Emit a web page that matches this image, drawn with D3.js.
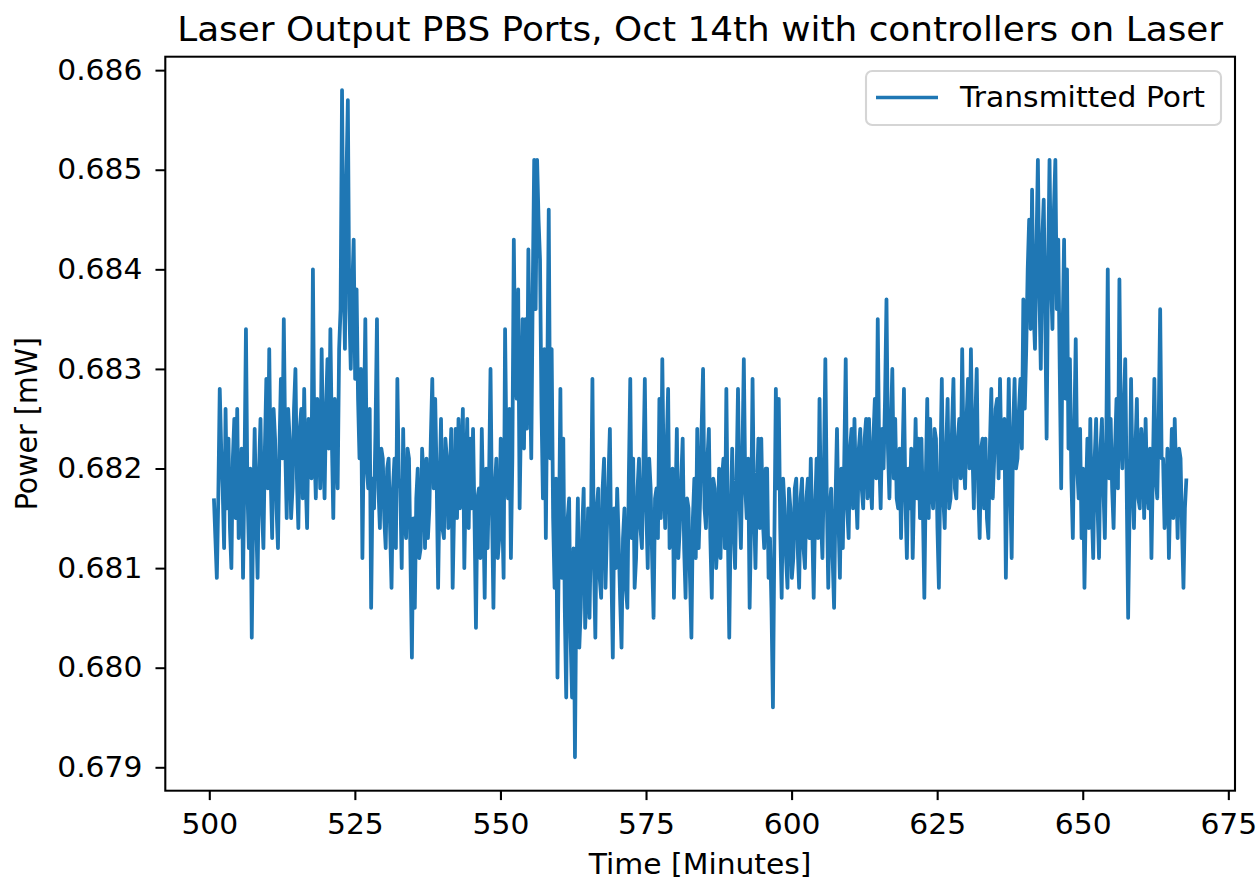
<!DOCTYPE html>
<html lang="en">
<head>
    <meta charset="UTF-8">
    <title>Laser Output PBS Ports</title>
    <script src="https://cdn.jsdelivr.net/npm/d3@7"></script>
    <style>
        body { margin: 0; background: #fff; }
        svg text { font-family: "DejaVu Sans", sans-serif; fill: #000; }
    </style>
</head>
<body>
<svg id="canvas" width="1260" height="887"></svg>
<script>
    // power meter log: first reading at t0 minutes, then one reading every dt minutes
    const t0 = 500.8;
    const dt = 0.25;
    // readings in mW
    const power = [
        // 500.8 - 522.5
        0.6817, 0.6813, 0.6809, 0.6817, 0.6828, 0.6822, 0.6818, 0.6812, 0.6826, 0.6816,
        0.6823, 0.6814, 0.6810, 0.6821, 0.6825, 0.6815, 0.6826, 0.6813, 0.6817, 0.6822,
        0.6809, 0.6820, 0.6834, 0.6818, 0.6812, 0.6820, 0.6803, 0.6816, 0.6824, 0.6815,
        0.6809, 0.6820, 0.6825, 0.6816, 0.6812, 0.6822, 0.6829, 0.6818, 0.6832, 0.6819,
        0.6813, 0.6826, 0.6823, 0.6816, 0.6812, 0.6822, 0.6829, 0.6821, 0.6835, 0.6822,
        0.6815, 0.6826, 0.6823, 0.6815, 0.6818, 0.6826, 0.6830, 0.6819, 0.6814, 0.6824,
        0.6826, 0.6817, 0.6828, 0.6819, 0.6814, 0.6825, 0.6823, 0.6819, 0.6840, 0.6822,
        0.6817, 0.6827, 0.6824, 0.6818, 0.6832, 0.6822, 0.6817, 0.6826, 0.6831, 0.6822,
        0.6834, 0.6823, 0.6815, 0.6827, 0.6823, 0.6818, 0.6832, 0.6836,
        // 522.8 - 556.5
        0.6858, 0.6840, 0.6832, 0.6849, 0.6857, 0.6836, 0.6830, 0.6838, 0.6843, 0.6829,
        0.6838, 0.6827, 0.6821, 0.6830, 0.6811, 0.6824, 0.6835, 0.6820, 0.6818, 0.6826,
        0.6806, 0.6819, 0.6816, 0.6824, 0.6835, 0.6818, 0.6814, 0.6822, 0.6821, 0.6815,
        0.6812, 0.6820, 0.6821, 0.6814, 0.6808, 0.6818, 0.6821, 0.6812, 0.6829, 0.6819,
        0.6818, 0.6810, 0.6824, 0.6815, 0.6813, 0.6822, 0.6821, 0.6811, 0.6801, 0.6815,
        0.6806, 0.6817, 0.6820, 0.6811, 0.6812, 0.6822, 0.6819, 0.6812, 0.6821, 0.6813,
        0.6816, 0.6823, 0.6829, 0.6818, 0.6827, 0.6819, 0.6808, 0.6818, 0.6825, 0.6814,
        0.6813, 0.6823, 0.6821, 0.6814, 0.6819, 0.6824, 0.6808, 0.6816, 0.6824, 0.6815,
        0.6825, 0.6816, 0.6821, 0.6826, 0.6810, 0.6819, 0.6825, 0.6814, 0.6823, 0.6816,
        0.6824, 0.6815, 0.6804, 0.6817, 0.6818, 0.6811, 0.6824, 0.6816, 0.6807, 0.6820,
        0.6812, 0.6819, 0.6830, 0.6816, 0.6806, 0.6818, 0.6821, 0.6811, 0.6813, 0.6823,
        0.6816, 0.6809, 0.6834, 0.6821, 0.6817, 0.6826, 0.6811, 0.6821, 0.6843, 0.6829,
        0.6827, 0.6838, 0.6816, 0.6826, 0.6835, 0.6822, 0.6835, 0.6824, 0.6842, 0.6830,
        0.6821, 0.6838, 0.6851, 0.6836, 0.6851, 0.6845,
        // 556.8 - 589.5
        0.6841, 0.6826, 0.6817, 0.6832, 0.6813, 0.6829, 0.6846, 0.6821, 0.6832, 0.6815,
        0.6808, 0.6819, 0.6799, 0.6813, 0.6828, 0.6809, 0.6823, 0.6806, 0.6797, 0.6815,
        0.6817, 0.6803, 0.6797, 0.6812, 0.6791, 0.6809, 0.6817, 0.6802, 0.6806, 0.6814,
        0.6818, 0.6804, 0.6808, 0.6816, 0.6805, 0.6814, 0.6829, 0.6811, 0.6803, 0.6816,
        0.6818, 0.6809, 0.6807, 0.6818, 0.6821, 0.6808, 0.6814, 0.6819, 0.6824, 0.6810,
        0.6801, 0.6816, 0.6810, 0.6818, 0.6813, 0.6807, 0.6802, 0.6813, 0.6816, 0.6808,
        0.6806, 0.6819, 0.6829, 0.6813, 0.6821, 0.6808, 0.6811, 0.6818, 0.6821, 0.6814,
        0.6812, 0.6820, 0.6829, 0.6816, 0.6810, 0.6821, 0.6818, 0.6811, 0.6805, 0.6817,
        0.6818, 0.6813, 0.6827, 0.6815, 0.6831, 0.6819, 0.6814, 0.6822, 0.6828, 0.6812,
        0.6815, 0.6820, 0.6807, 0.6816, 0.6824, 0.6811, 0.6814, 0.6819, 0.6823, 0.6812,
        0.6807, 0.6817, 0.6816, 0.6809, 0.6803, 0.6815, 0.6819, 0.6811, 0.6824, 0.6812,
        0.6817, 0.6824, 0.6830, 0.6816, 0.6814, 0.6821, 0.6824, 0.6813, 0.6807, 0.6819,
        0.6818, 0.6810, 0.6813, 0.6820, 0.6811, 0.6819, 0.6821, 0.6812, 0.6828, 0.6814,
        0.6803, 0.6815,
        // 589.8 - 622.0
        0.6822, 0.6814, 0.6810, 0.6819, 0.6828, 0.6817, 0.6812, 0.6821, 0.6831, 0.6818,
        0.6815, 0.6821, 0.6806, 0.6815, 0.6829, 0.6816, 0.6810, 0.6818, 0.6823, 0.6814,
        0.6823, 0.6815, 0.6812, 0.6820, 0.6820, 0.6809, 0.6813, 0.6806, 0.6796, 0.6813,
        0.6828, 0.6818, 0.6827, 0.6814, 0.6807, 0.6819, 0.6816, 0.6811, 0.6808, 0.6818,
        0.6816, 0.6809, 0.6811, 0.6818, 0.6819, 0.6812, 0.6808, 0.6817, 0.6819, 0.6812,
        0.6810, 0.6817, 0.6819, 0.6813, 0.6821, 0.6814, 0.6807, 0.6816, 0.6821, 0.6813,
        0.6827, 0.6815, 0.6811, 0.6820, 0.6831, 0.6817, 0.6808, 0.6816, 0.6818, 0.6811,
        0.6806, 0.6817, 0.6824, 0.6815, 0.6809, 0.6820, 0.6812, 0.6821, 0.6831, 0.6816,
        0.6813, 0.6822, 0.6824, 0.6816, 0.6825, 0.6818, 0.6814, 0.6822, 0.6824, 0.6818,
        0.6816, 0.6823, 0.6825, 0.6817, 0.6825, 0.6819, 0.6816, 0.6823, 0.6827, 0.6819,
        0.6835, 0.6821, 0.6816, 0.6824, 0.6820, 0.6827, 0.6837, 0.6822, 0.6817, 0.6824,
        0.6830, 0.6819, 0.6825, 0.6817, 0.6816, 0.6822, 0.6813, 0.6821, 0.6828, 0.6817,
        0.6811, 0.6820, 0.6816, 0.6822, 0.6811, 0.6818, 0.6825, 0.6817, 0.6823, 0.6815,
        // 622.3 - 654.5
        0.6823, 0.6816, 0.6807, 0.6819, 0.6827, 0.6815, 0.6825, 0.6818, 0.6816, 0.6824,
        0.6823, 0.6814, 0.6808, 0.6820, 0.6829, 0.6817, 0.6814, 0.6822, 0.6827, 0.6816,
        0.6817, 0.6824, 0.6829, 0.6818, 0.6817, 0.6823, 0.6825, 0.6819, 0.6832, 0.6821,
        0.6818, 0.6825, 0.6829, 0.6820, 0.6832, 0.6822, 0.6816, 0.6825, 0.6830, 0.6818,
        0.6813, 0.6822, 0.6823, 0.6816, 0.6823, 0.6815, 0.6813, 0.6822, 0.6828, 0.6817,
        0.6821, 0.6826, 0.6827, 0.6819, 0.6829, 0.6820, 0.6821, 0.6825, 0.6809, 0.6820,
        0.6829, 0.6818, 0.6811, 0.6824, 0.6829, 0.6820, 0.6821, 0.6826, 0.6829, 0.6822,
        0.6837, 0.6826, 0.6832, 0.6840, 0.6845, 0.6834, 0.6848, 0.6836, 0.6832, 0.6842,
        0.6851, 0.6838, 0.6830, 0.6843, 0.6847, 0.6836, 0.6823, 0.6840, 0.6851, 0.6839,
        0.6834, 0.6846, 0.6851, 0.6836, 0.6843, 0.6830, 0.6818, 0.6834, 0.6843, 0.6827,
        0.6840, 0.6822, 0.6831, 0.6819, 0.6813, 0.6824, 0.6833, 0.6820, 0.6817, 0.6824,
        0.6813, 0.6820, 0.6808, 0.6817, 0.6823, 0.6814, 0.6825, 0.6816, 0.6811, 0.6821,
        0.6825, 0.6816, 0.6811, 0.6822, 0.6825, 0.6818, 0.6813, 0.6823, 0.6840, 0.6819,
        // 654.8 - 667.8
        0.6825, 0.6818, 0.6814, 0.6822, 0.6827, 0.6818, 0.6839, 0.6823, 0.6820, 0.6826,
        0.6831, 0.6818, 0.6805, 0.6816, 0.6829, 0.6819, 0.6814, 0.6822, 0.6827, 0.6817,
        0.6816, 0.6824, 0.6822, 0.6815, 0.6825, 0.6818, 0.6816, 0.6822, 0.6811, 0.6820,
        0.6829, 0.6819, 0.6817, 0.6825, 0.6836, 0.6821, 0.6821, 0.6814, 0.6817, 0.6822,
        0.6811, 0.6818, 0.6824, 0.6815, 0.6825, 0.6819, 0.6813, 0.6822, 0.6821, 0.6814,
        0.6808, 0.6816, 0.6819
    ];
    const xTicks = [500, 525, 550, 575, 600, 625, 650, 675];
    const yTicks = [0.679, 0.680, 0.681, 0.682, 0.683, 0.684, 0.685, 0.686];
    const titleText = "Laser Output PBS Ports, Oct 14th with controllers on Laser";
    const xLabelText = "Time [Minutes]";
    const yLabelText = "Power [mW]";
    const seriesName = "Transmitted Port";

    const lineColor = "#1f77b4";
    // the figure is a little wider than tall text would suggest, so draw in a
    // narrower space and stretch it horizontally
    const sx = 1.045;
    const margin = {left: 165.3 / sx, top: 56.7, right: 1235 / sx, bottom: 790.7};

    let data = power.map((p, i) => ({t: t0 + i * dt, p: p}));

    // matplotlib style 5% padding around the data
    function padded(ext) {
        let pad = (ext[1] - ext[0]) * 0.05;
        return [ext[0] - pad, ext[1] + pad];
    }

    let x = d3.scaleLinear()
        .domain(padded(d3.extent(data, d => d.t)))
        .range([margin.left, margin.right]);
    let y = d3.scaleLinear()
        .domain(padded(d3.extent(data, d => d.p)))
        .range([margin.bottom, margin.top]);

    let svg = d3.select('#canvas').append('g').attr('transform', `scale(${sx},1)`);

    // line first, frame on top
    let line = d3.line().x(d => x(d.t)).y(d => y(d.p));
    svg.append('path')
        .datum(data)
        .attr('d', line)
        .attr('fill', 'none')
        .attr('stroke', lineColor)
        .attr('stroke-width', 3.6)
        .attr('stroke-linejoin', 'round')
        .attr('stroke-linecap', 'butt');

    let xAxis = svg.append('g')
        .attr('transform', `translate(0,${margin.bottom})`)
        .call(d3.axisBottom(x).tickValues(xTicks).tickFormat(d3.format('d'))
            .tickSize(9.4).tickPadding(14).tickSizeOuter(0));
    let yAxis = svg.append('g')
        .attr('transform', `translate(${margin.left},0)`)
        .call(d3.axisLeft(y).tickValues(yTicks).tickFormat(d3.format('.3f'))
            .tickSize(9.4).tickPadding(12.5).tickSizeOuter(0));

    [xAxis, yAxis].forEach(g => {
        g.select('.domain').remove();
        g.selectAll('.tick line').attr('stroke', '#000').attr('stroke-width', 2);
        g.selectAll('.tick text').attr('font-size', 28.5).attr('font-family', '"DejaVu Sans", sans-serif').attr('fill', '#000');
    });

    // axes frame
    svg.append('rect')
        .attr('x', margin.left).attr('y', margin.top)
        .attr('width', margin.right - margin.left)
        .attr('height', margin.bottom - margin.top)
        .attr('fill', 'none')
        .attr('stroke', '#000')
        .attr('stroke-width', 2);

    // legend
    let legend = svg.append('g');
    legend.append('rect')
        .attr('x', 866 / sx).attr('y', 71).attr('width', 355 / sx).attr('height', 54)
        .attr('rx', 6)
        .attr('fill', '#fff').attr('fill-opacity', 0.8)
        .attr('stroke', '#d5d5d5').attr('stroke-width', 2);
    legend.append('line')
        .attr('x1', 876 / sx).attr('x2', 938 / sx).attr('y1', 97.5).attr('y2', 97.5)
        .attr('stroke', lineColor).attr('stroke-width', 3.6);
    legend.append('text')
        .attr('x', 960 / sx).attr('y', 97.5).attr('dy', '0.35em')
        .attr('font-size', 28.5)
        .text(seriesName);

    // title and axis labels
    let midX = (margin.left + margin.right) / 2;
    svg.append('text')
        .attr('x', midX).attr('y', 41)
        .attr('text-anchor', 'middle')
        .attr('font-size', 34.3)
        .text(titleText);
    svg.append('text')
        .attr('x', midX).attr('y', 874)
        .attr('text-anchor', 'middle')
        .attr('font-size', 28.5)
        .text(xLabelText);
    svg.append('text')
        .attr('transform', `translate(${37 / sx},${(margin.top + margin.bottom) / 2}) rotate(-90)`)
        .attr('text-anchor', 'middle')
        .attr('font-size', 28.5)
        .text(yLabelText);
</script>
</body>
</html>
